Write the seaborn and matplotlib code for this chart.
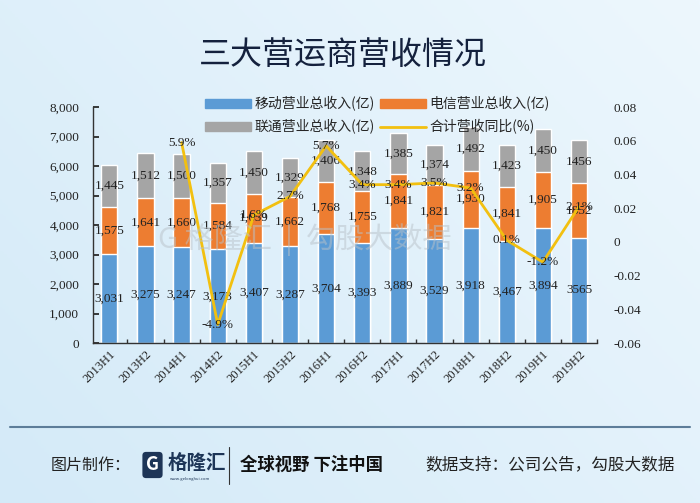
import numpy as np
import pandas as pd
import matplotlib
matplotlib.use("Agg")
import matplotlib.pyplot as plt
import seaborn as sns
from matplotlib.ticker import FuncFormatter, FixedLocator
from matplotlib.lines import Line2D
from matplotlib.patches import Patch

periods = ["2013H1", "2013H2", "2014H1", "2014H2", "2015H1", "2015H2", "2016H1",
           "2016H2", "2017H1", "2017H2", "2018H1", "2018H2", "2019H1", "2019H2"]
mobile = [3031, 3275, 3247, 3173, 3407, 3287, 3704, 3393, 3889, 3529, 3918, 3467, 3894, 3565]
telecom = [1575, 1641, 1660, 1584, 1659, 1662, 1768, 1755, 1841, 1821, 1930, 1841, 1905, 1852]
unicom = [1445, 1512, 1500, 1357, 1450, 1329, 1406, 1348, 1385, 1374, 1492, 1423, 1450, 1456]
yoy = [np.nan, np.nan, 0.059, -0.049, 0.016, 0.027, 0.057, 0.034, 0.034, 0.035,
       0.032, 0.001, -0.012, 0.021]

series_names = ["移动营业总收入(亿)", "电信营业总收入(亿)", "联通营业总收入(亿)", "合计营收同比(%)"]
c_blue, c_orange, c_grey, c_line = "#5B9BD5", "#ED7D31", "#A5A5A5", "#F2C010"

sns.set_theme(style="white")
plt.rcParams['font.family'] = ['Noto Sans CJK SC', 'DejaVu Sans']
num_font = "Liberation Serif"

df = pd.DataFrame({"period": periods, "mobile": mobile, "telecom": telecom,
                   "unicom": unicom, "yoy": yoy})
df["lvl2"] = df["mobile"] + df["telecom"]
df["lvl3"] = df["lvl2"] + df["unicom"]
df["pos"] = np.arange(len(df))

fig = plt.figure(figsize=(7, 5.03), dpi=100)

# light blue background
bg = fig.add_axes([0, 0, 1, 1], zorder=-10)
grad = np.linspace(0, 1, 256)
gx, gy = np.meshgrid(grad, grad)
g = 0.6 * gx + 0.4 * (1 - gy)
cmap = matplotlib.colors.LinearSegmentedColormap.from_list("bgc", ["#d4eaf8", "#edf7fd"])
bg.imshow(g, cmap=cmap, aspect="auto", extent=[0, 1, 0, 1], origin="upper")
bg.set_xlim(0, 1); bg.set_ylim(0, 1)
bg.axis("off")

ax = fig.add_axes([0.133, 0.318, 0.72, 0.469])
ax.patch.set_alpha(0)

# stacked bars: draw totals first, then overlay lower layers
sns.barplot(data=df, x="period", y="lvl3", color=c_grey, saturation=1, width=0.45, ax=ax)
sns.barplot(data=df, x="period", y="lvl2", color=c_orange, saturation=1, width=0.45, ax=ax)
sns.barplot(data=df, x="period", y="mobile", color=c_blue, saturation=1, width=0.45, ax=ax)

def fmt_num(v, i):
    return str(v) if i == len(periods) - 1 else f"{v:,}"

for i, row in df.iterrows():
    ax.text(i, row["mobile"] / 2, fmt_num(row["mobile"], i), ha="center", va="center",
            fontsize=9.5, family=num_font, color="#222222")
    ax.text(i, row["mobile"] + row["telecom"] / 2, fmt_num(row["telecom"], i), ha="center",
            va="center", fontsize=9.5, family=num_font, color="#222222")
    ax.text(i, row["lvl2"] + row["unicom"] / 2, fmt_num(row["unicom"], i), ha="center",
            va="center", fontsize=9.5, family=num_font, color="#222222")

ax.set_ylim(0, 8000)
ax.set_yticks(range(0, 8001, 1000))
ax.yaxis.set_major_formatter(FuncFormatter(lambda v, p: f"{int(v):,}"))
ax.set_xlabel("")
ax.set_ylabel("")
for s in ["top", "right"]:
    ax.spines[s].set_visible(False)
for s in ["left", "bottom"]:
    ax.spines[s].set_color("#333333")
    ax.spines[s].set_linewidth(1)
ax.tick_params(axis="y", direction="in", length=4, left=True, pad=10, colors="#222222",
               labelsize=9.5)
ax.tick_params(axis="x", which="major", length=0, pad=4, labelsize=9, colors="#222222")
ax.xaxis.set_minor_locator(FixedLocator(np.arange(-0.5, len(periods), 1.0)))
ax.tick_params(axis="x", which="minor", direction="in", length=3, bottom=True, color="#333333")
for lab in ax.get_yticklabels():
    lab.set_family(num_font)
ax.set_xticks(range(len(periods)))
ax.set_xticklabels(periods, rotation=45, ha="right", rotation_mode="anchor", family=num_font)

# yoy line on the right axis
ax2 = ax.twinx()
line_df = df.dropna(subset=["yoy"])
sns.lineplot(data=line_df, x="pos", y="yoy", color=c_line, linewidth=2, ax=ax2)
ax2.set_ylim(-0.06, 0.08)
ax2.set_yticks(np.arange(-0.06, 0.0801, 0.02))
ax2.yaxis.set_major_formatter(FuncFormatter(lambda v, p: "0" if abs(v) < 1e-9 else f"{v:.2f}"))
ax2.tick_params(axis="y", length=0, pad=12, labelsize=9.5, colors="#222222")
for lab in ax2.get_yticklabels():
    lab.set_family(num_font)
ax2.set_ylabel("")
ax2.set_xlabel("")
for s in ["top", "right", "left", "bottom"]:
    ax2.spines[s].set_visible(False)
for _, row in line_df.iterrows():
    ax2.text(row["pos"], row["yoy"], f"{row['yoy'] * 100:.1f}%", ha="center", va="center",
             fontsize=9.5, family=num_font, color="#222222")
ax.set_xlim(-0.45, len(periods) - 0.5)

# legend
handles = [Patch(color=c_blue), Patch(color=c_grey), Patch(color=c_orange),
           Line2D([0], [0], color=c_line, lw=2)]
labels = [series_names[0], series_names[2], series_names[1], series_names[3]]
fig.legend(handles, labels, ncol=2, loc="upper left", bbox_to_anchor=(0.283, 0.822),
           frameon=False, fontsize=10, handlelength=3.3, handleheight=0.6,
           handletextpad=0.25, columnspacing=0.4, labelspacing=0.55, borderpad=0)

# title
fig.text(0.49, 1 - 55 / 503, "三大营运商营收情况", ha="center", va="center",
         fontsize=23, color="#14213d")

# watermark
fig.text(0.435, 1 - 240 / 503, "G 格隆汇  |  勾股大数据", ha="center", va="center",
         fontsize=21, color="#b9c2c9", alpha=0.5, zorder=5)

# footer
fig.add_artist(Line2D([10 / 700, 690 / 700], [1 - 427 / 503] * 2, color="#5d7d99", lw=1.5))
fy = 1 - 465 / 503
fig.text(51 / 700, fy, "图片制作：", ha="left", va="center", fontsize=11.5, color="#222222")
fig.text(146 / 700, fy, "G", ha="left", va="center", fontsize=13, color="white",
         weight="bold", bbox=dict(boxstyle="round,pad=0.2", fc="#1d3557", ec="none"))
fig.text(168 / 700, fy + 0.004, "格隆汇", ha="left", va="center", fontsize=14,
         color="#1d3557", weight="bold")
fig.text(170 / 700, fy - 0.028, "www.gelonghui.com", ha="left", va="center", fontsize=3,
         color="#1d3557")
fig.add_artist(Line2D([229 / 700] * 2, [1 - 447 / 503, 1 - 484 / 503], color="#333333", lw=0.8))
fig.text(240 / 700, fy, "全球视野 下注中国", ha="left", va="center", fontsize=12.5,
         color="#111111", weight="bold")
fig.text(425 / 700, fy, "数据支持：公司公告，勾股大数据", ha="left", va="center",
         fontsize=12, color="#222222")

fig.savefig("out.png", dpi=100)
